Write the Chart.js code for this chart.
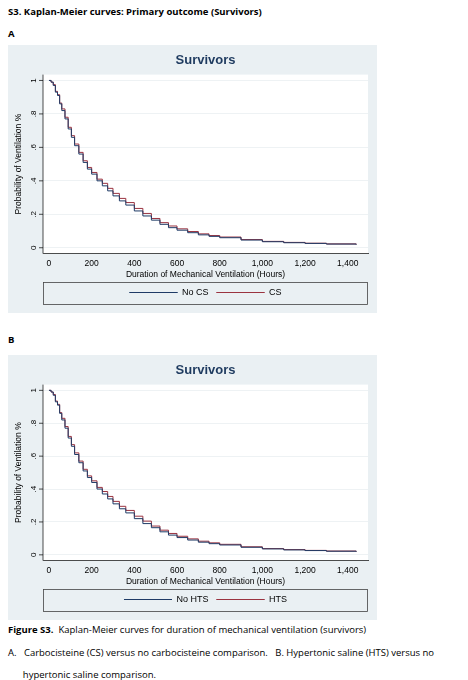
<!DOCTYPE html>
<html><head><meta charset="utf-8">
<script src="https://cdn.jsdelivr.net/npm/chart.js@4"></script>
<style>
body{margin:0;background:#fff;width:468px;height:680px;position:relative;font-family:"Open Sans",sans-serif;color:#000}
.t{position:absolute;left:8px;font-size:9.5px}
.box{position:absolute;left:8px;width:369px;height:268px;background:#eaf0f3}
</style></head><body>
<div class="t" style="top:5px;font-weight:bold">S3. Kaplan-Meier curves: Primary outcome (Survivors)</div>
<div class="t" style="top:27px;font-weight:bold">A</div>
<div class="box" style="top:45px"><canvas id="c1" width="369" height="268"></canvas></div>
<div class="t" style="top:333px;font-weight:bold">B</div>
<div class="box" style="top:355px;height:265px"><canvas id="c2" width="369" height="265"></canvas></div>
<div class="t" style="top:623px"><b>Figure S3.</b>&nbsp; Kaplan-Meier curves for duration of mechanical ventilation (survivors)</div>
<div class="t" style="top:642px;width:455px;line-height:22px">A.&nbsp;&nbsp; Carbocisteine (CS) versus no carbocisteine comparison.&nbsp;&nbsp; B. Hypertonic saline (HTS) versus no<br>&nbsp;&nbsp;&nbsp;&nbsp;&nbsp; hypertonic saline comparison.</div>
<script>
const hours = [0, 10, 20, 30, 40, 50, 60, 75, 90, 105, 120, 140, 160, 180, 200, 225, 250, 275, 300, 330, 360, 400, 440, 480, 520, 560, 600, 650, 700, 750, 800, 900, 1000, 1100, 1200, 1300, 1440];
const noTreat = [1.0, 0.99, 0.97, 0.93, 0.91, 0.86, 0.82, 0.77, 0.71, 0.66, 0.61, 0.56, 0.51, 0.47, 0.44, 0.40, 0.37, 0.34, 0.31, 0.28, 0.255, 0.22, 0.19, 0.165, 0.14, 0.12, 0.105, 0.09, 0.077, 0.068, 0.06, 0.046, 0.036, 0.03, 0.026, 0.022, 0.019];
const treat = [1.0, 0.99, 0.975, 0.935, 0.915, 0.865, 0.83, 0.78, 0.72, 0.67, 0.62, 0.57, 0.52, 0.48, 0.45, 0.41, 0.385, 0.355, 0.325, 0.295, 0.27, 0.235, 0.205, 0.175, 0.15, 0.13, 0.113, 0.097, 0.083, 0.073, 0.064, 0.049, 0.038, 0.032, 0.027, 0.023, 0.02];
const xTicks = [0, 200, 400, 600, 800, 1000, 1200, 1400];
const yTicks = [0, 0.2, 0.4, 0.6, 0.8, 1];
const yTickLabels = ["0", ".2", ".4", ".6", ".8", "1"];

const F = "'Liberation Sans', Arial, sans-serif";
const stata = {
  id: "stata",
  beforeDraw(c) {
    const a = c.chartArea, x = c.ctx;
    x.save(); x.fillStyle = "#fff"; x.fillRect(a.left, a.top, a.right - a.left, a.bottom - a.top); x.restore();
  },
  afterDraw(c) {
    const x = c.ctx, y = c.scales.y, a = c.chartArea;
    x.save();
    x.fillStyle = "#000"; x.strokeStyle = "#000"; x.lineWidth = 0.7;
    x.font = "8px " + F;
    yTicks.forEach((v, i) => {
      const p = y.getPixelForValue(v);
      x.beginPath(); x.moveTo(a.left, p); x.lineTo(a.left - 4, p); x.stroke();
      x.save(); x.translate(a.left - 9, p); x.rotate(-Math.PI / 2);
      x.textAlign = "center"; x.textBaseline = "middle"; x.fillText(yTickLabels[i], 0, 0); x.restore();
    });
    x.beginPath(); x.moveTo(a.left, a.top); x.lineTo(a.left, a.bottom); x.stroke();
    x.font = "8.5px " + F;
    x.save(); x.translate(a.left - 24, (a.top + a.bottom) / 2); x.rotate(-Math.PI / 2);
    x.textAlign = "center"; x.textBaseline = "middle"; x.fillText("Probability of Ventilation %", 0, 0); x.restore();
    const L = c.legend;
    x.strokeStyle = "#444"; x.lineWidth = 0.8;
    x.strokeRect(L.left + 0.5, L.top + 2.5, L.width - 1, L.height - 5);
    x.restore();
  }
};

function make(id, names) {
  new Chart(document.getElementById(id), {
    type: "line",
    data: {
      datasets: [
        { label: names[0], data: hours.map((h, i) => ({ x: h, y: noTreat[i] })), borderColor: "#1f3b66", borderWidth: 1, stepped: true, pointRadius: 0 },
        { label: names[1], data: hours.map((h, i) => ({ x: h, y: treat[i] })), borderColor: "#9a3340", borderWidth: 1, stepped: true, pointRadius: 0 }
      ]
    },
    options: {
      responsive: false, animation: false, events: [],
      layout: { padding: { left: 35, right: 9, top: 4, bottom: 6 } },
      plugins: {
        title: { display: true, text: "Survivors", color: "#1e3a5f", font: { family: F, size: 13 }, padding: { top: 4, bottom: 6 } },
        legend: {
          position: "bottom",
          labels: { color: "#000", font: { family: F, size: 9 }, boxWidth: 48, boxHeight: 0, padding: 8, generateLabels: c => c.data.datasets.map((d, i) => ({ text: d.label, strokeStyle: d.borderColor, fillStyle: d.borderColor, lineWidth: 1, datasetIndex: i })) },
          maxWidth: 240
        },
        tooltip: { enabled: false }
      },
      scales: {
        x: {
          type: "linear", min: -28, max: 1495,
          afterBuildTicks: s => { s.ticks = xTicks.map(v => ({ value: v })); },
          grid: { display: false, drawTicks: true, tickLength: 4, tickColor: "#000" },
          border: { color: "#000", width: 0.7 },
          ticks: { color: "#000", font: { family: F, size: 8.5 }, padding: 1 },
          title: { display: true, text: "Duration of Mechanical Ventilation (Hours)", color: "#000", font: { family: F, size: 8.5 }, padding: 0 }
        },
        y: {
          min: -0.035, max: 1.035,
          afterBuildTicks: s => { s.ticks = yTicks.map(v => ({ value: v })); },
          afterFit: s => { s.width = 0; },
          ticks: { display: false },
          grid: { color: "#eef2f4", lineWidth: 1, drawTicks: false },
          border: { display: false }
        }
      }
    },
    plugins: [stata]
  });
}
make("c1", ["No CS", "CS"]);
make("c2", ["No HTS", "HTS"]);
</script>
</body></html>
